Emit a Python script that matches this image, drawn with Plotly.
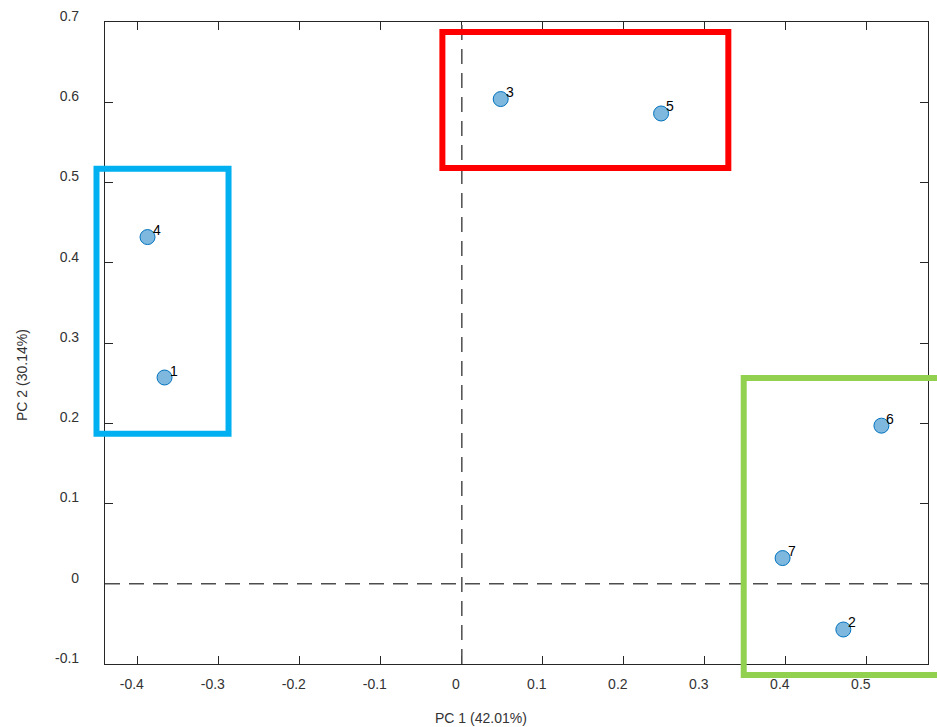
import plotly.graph_objects as go

# ---- data ----
sample_labels = ["1", "2", "3", "4", "5", "6", "7"]
pc1_scores = [-0.367, 0.471, 0.048, -0.388, 0.246, 0.518, 0.396]
pc2_scores = [0.257, -0.057, 0.604, 0.432, 0.586, 0.197, 0.032]

x_tick_vals = [-0.4, -0.3, -0.2, -0.1, 0, 0.1, 0.2, 0.3, 0.4, 0.5]
y_tick_vals = [-0.1, 0, 0.1, 0.2, 0.3, 0.4, 0.5, 0.6, 0.7]
x_title = "PC 1 (42.01%)"
y_title = "PC 2 (30.14%)"

# group boxes in data units: (x0, x1, y0, y1)
group_boxes = {
    "blue": (-0.451, -0.288, 0.187, 0.517),
    "red": (-0.024, 0.329, 0.518, 0.6875),
    "green": (0.348, 0.64, -0.1137, 0.2564),
}
group_colors = {"blue": "#00B0F0", "red": "#FF0000", "green": "#92D050"}

X_RANGE = [-0.4405, 0.5755]
Y_RANGE = [-0.1, 0.7]

def fmt(v):
    return f"{v:g}"

def to_paper_x(v):
    return (v - X_RANGE[0]) / (X_RANGE[1] - X_RANGE[0])

def to_paper_y(v):
    return (v - Y_RANGE[0]) / (Y_RANGE[1] - Y_RANGE[0])

FONT = "Liberation Sans, Arial, sans-serif"
AX = "#262626"

fig = go.Figure()
fig.add_trace(go.Scatter(
    x=pc1_scores, y=pc2_scores, mode="markers",
    marker=dict(size=15, color="rgba(0,114,189,0.5)",
                line=dict(color="#0072BD", width=1)),
    hoverinfo="skip", showlegend=False, cliponaxis=False,
))

annotations = []
for xv, yv, lab in zip(pc1_scores, pc2_scores, sample_labels):
    annotations.append(dict(x=xv, y=yv, text=lab, showarrow=False,
                            xshift=9, yshift=7, xanchor="center", yanchor="middle",
                            font=dict(family=FONT, size=14, color="#000000")))
annotations.append(dict(xref="paper", yref="paper", x=(481 - 105) / 823, y=(664 - 718) / 642,
                        text=x_title, showarrow=False, xanchor="center", yanchor="middle",
                        font=dict(family=FONT, size=14, color="#333333")))
annotations.append(dict(xref="paper", yref="paper", x=(22 - 105) / 823, y=(664 - 375) / 642,
                        text=y_title, showarrow=False, textangle=-90,
                        xanchor="center", yanchor="middle",
                        font=dict(family=FONT, size=14, color="#333333")))

shapes = [
    dict(type="line", xref="x", yref="paper", x0=0, x1=0, y0=0, y1=1,
         line=dict(color="#4d4d4d", width=1.5, dash="15px,9px"), layer="above"),
    dict(type="line", xref="paper", yref="y", x0=0, x1=1, y0=0, y1=0,
         line=dict(color="#4d4d4d", width=1.5, dash="15px,9px"), layer="above"),
]
for name, (x0, x1, y0, y1) in group_boxes.items():
    shapes.append(dict(type="rect", xref="paper", yref="paper",
                       x0=to_paper_x(x0), x1=to_paper_x(x1),
                       y0=to_paper_y(y0), y1=to_paper_y(y1),
                       line=dict(color=group_colors[name], width=6),
                       fillcolor="rgba(0,0,0,0)", layer="above"))

fig.update_layout(
    width=937, height=727,
    margin=dict(l=105, r=9, t=22, b=63),
    paper_bgcolor="white", plot_bgcolor="white",
    font=dict(family=FONT, size=14, color="#333333"),
    showlegend=False,
    annotations=annotations,
    shapes=shapes,
    xaxis=dict(range=X_RANGE, tickvals=x_tick_vals, ticktext=[fmt(v) for v in x_tick_vals],
               ticks="inside", ticklen=8, tickcolor=AX, tickwidth=1,
               showline=True, linecolor=AX, linewidth=1.2, mirror="ticks",
               showgrid=False, zeroline=False,
               ticklabelstandoff=7, ticklabelshift=-6,
               tickfont=dict(family=FONT, size=14, color="#333333")),
    yaxis=dict(range=Y_RANGE, tickvals=y_tick_vals, ticktext=[fmt(v) for v in y_tick_vals],
               ticks="inside", ticklen=8, tickcolor=AX, tickwidth=1,
               showline=True, linecolor=AX, linewidth=1.2, mirror="ticks",
               showgrid=False, zeroline=False,
               ticklabelstandoff=22, ticklabelshift=-6,
               tickfont=dict(family=FONT, size=14, color="#333333")),
)

fig.write_html("out.html")
